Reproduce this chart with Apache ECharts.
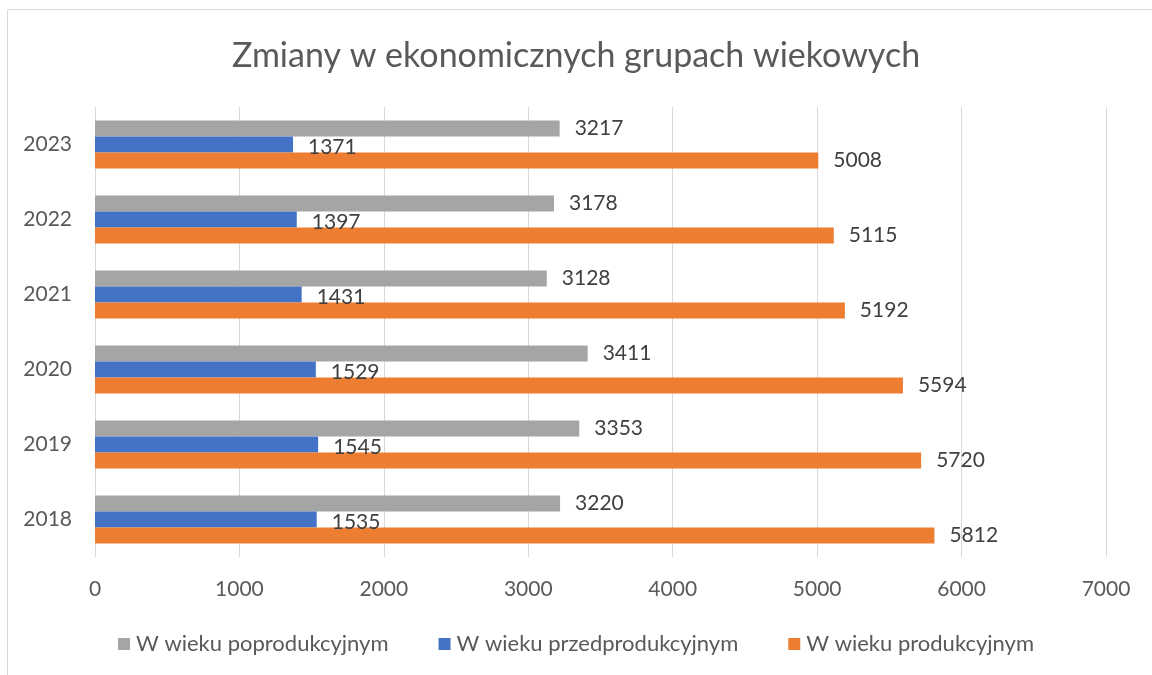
<!DOCTYPE html>
<html>
<head>
<meta charset="utf-8">
<script src="https://cdn.jsdelivr.net/npm/echarts@6/dist/echarts.min.js"></script>
<style>
  html, body { margin: 0; padding: 0; background: #fff; }
  #chart { width: 1152px; height: 675px; }
</style>
</head>
<body>
<div id="chart"></div>
<script>
const years = ['2018', '2019', '2020', '2021', '2022', '2023'];
const poprodukcyjny = [3220, 3353, 3411, 3128, 3178, 3217];
const przedprodukcyjny = [1535, 1545, 1529, 1431, 1397, 1371];
const produkcyjny = [5812, 5720, 5594, 5192, 5115, 5008];
const xTicks = { min: 0, max: 7000, interval: 1000 };

const font = 'Lato, "Open Sans", sans-serif';
const labelStyle = {
  show: true,
  position: 'right',
  distance: 15,
  color: '#404040',
  fontSize: 21,
  fontFamily: font,
};

const chart = echarts.init(document.getElementById('chart'));

chart.setOption({
  animation: false,
  textStyle: { fontFamily: font },
  title: {
    text: 'Zmiany w ekonomicznych grupach wiekowych',
    left: 'center',
    top: 34,
    textStyle: {
      color: '#595959',
      fontSize: 34,
      fontWeight: 'normal',
      fontFamily: font,
    },
  },
  graphic: [
    {
      type: 'rect',
      shape: { x: 7.5, y: 9.5, width: 1200, height: 700 },
      style: { fill: 'none', stroke: '#d9d9d9', lineWidth: 1 },
      silent: true,
    },
  ],
  legend: {
    data: ['W wieku poprodukcyjnym', 'W wieku przedprodukcyjnym', 'W wieku produkcyjnym'],
    left: 'center',
    top: 628,
    icon: 'rect',
    itemWidth: 12,
    itemHeight: 12,
    itemGap: 50,
    textStyle: { color: '#595959', fontSize: 22, fontFamily: font, padding: [0, 0, 0, 1] },
  },
  grid: {
    left: 95,
    right: 46,
    top: 107,
    bottom: 118,
  },
  xAxis: {
    type: 'value',
    min: xTicks.min,
    max: xTicks.max,
    interval: xTicks.interval,
    axisLine: { show: false },
    axisTick: { show: false },
    splitLine: { lineStyle: { color: '#d9d9d9', width: 1 } },
    axisLabel: { color: '#595959', fontSize: 21, margin: 22, formatter: v => String(v) },
  },
  yAxis: {
    type: 'category',
    data: years,
    axisLine: { show: false },
    axisTick: { show: false },
    axisLabel: { color: '#595959', fontSize: 21, margin: 23 },
  },
  series: [
    {
      name: 'W wieku poprodukcyjnym',
      type: 'bar',
      data: poprodukcyjny,
      barWidth: 16,
      barGap: '0%',
      itemStyle: { color: '#A5A5A5' },
      label: labelStyle,
    },
    {
      name: 'W wieku przedprodukcyjnym',
      type: 'bar',
      data: przedprodukcyjny,
      barWidth: 16,
      barGap: '0%',
      itemStyle: { color: '#4472C4' },
      label: Object.assign({}, labelStyle, { offset: [0, 3] }),
    },
    {
      name: 'W wieku produkcyjnym',
      type: 'bar',
      data: produkcyjny,
      barWidth: 16,
      barGap: '0%',
      itemStyle: { color: '#ED7D31' },
      label: labelStyle,
    },
  ],
});
</script>
</body>
</html>
